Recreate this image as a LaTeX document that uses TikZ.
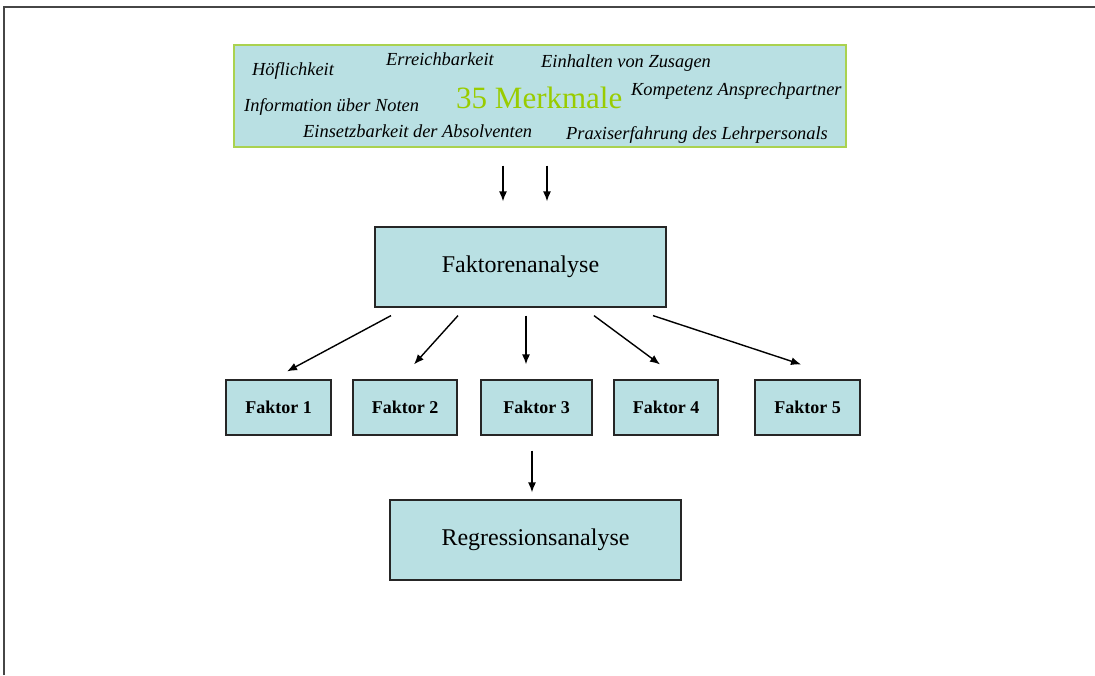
\documentclass[tikz,border=0pt]{standalone}
\usepackage{fontspec}
\setmainfont{Liberation Serif}
\usepackage{xcolor}
\usepackage{tikz}
\usetikzlibrary{calc}
\usetikzlibrary{arrows.meta}
\usetikzlibrary{positioning}
\definecolor{boxblue}{RGB}{185,224,227}
\definecolor{merkgreen}{RGB}{153,204,0}
\definecolor{merkframe}{RGB}{170,210,80}
\definecolor{framegray}{RGB}{70,70,70}

\begin{document}
\begin{tikzpicture}[x=1pt,y=-1pt]
			\tikzset{box/.style={shape=rectangle, draw=black!85, fill=boxblue, line width=1.2pt, inner sep=0pt, align=center}}
			\tikzset{flow/.style={-{Latex[length=10pt,width=8pt]}, line width=1.4pt}}
			\tikzset{word/.style={anchor=base west, inner sep=0pt, font=\fontsize{18.4}{20}\selectfont\itshape}}
			\tikzset{fak/.style={box, minimum height=55pt, font=\fontsize{18}{20}\selectfont\bfseries}}
			\useasboundingbox (0,0) rectangle (1095,675);
			\draw[framegray, line width=2pt] (4,675) -- (4,7) -- (1095,7);
			% Merkmale
			\node[box, draw=merkframe, minimum width=612pt, minimum height=102pt] (merk) at (540,96) {};
			\node[word] (hoefl) at (252,75) {Höflichkeit};
			\node[word] (erreich) at (386,65) {Erreichbarkeit};
			\node[word] (zusagen) at (541,67) {Einhalten von Zusagen};
			\node[word] (noten) at (244,111) {Information über Noten};
			\node[word, font=\fontsize{31}{33}\selectfont, text=merkgreen] (anzahl) at (456,108) {35 Merkmale};
			\node[word] (kompetenz) at (631,95) {Kompetenz Ansprechpartner};
			\node[word] (einsatz) at (303,137) {Einsetzbarkeit der Absolventen};
			\node[word] (praxis) at (566,139) {Praxiserfahrung des Lehrpersonals};
			% Analyse
			\node[box, minimum width=291pt, minimum height=80pt, font=\fontsize{24}{26}\selectfont] (fa) at (520.5,267) {Faktorenanalyse};
			\node[fak, minimum width=105pt] (f1) at (278.5,407.5) {Faktor 1};
			\node[fak, minimum width=104pt] (f2) at (405,407.5) {Faktor 2};
			\node[fak, minimum width=111pt] (f3) at (536.5,407.5) {Faktor 3};
			\node[fak, minimum width=104pt] (f4) at (666,407.5) {Faktor 4};
			\node[fak, minimum width=105pt] (f5) at (807.5,407.5) {Faktor 5};
			\node[box, minimum width=291pt, minimum height=80pt, font=\fontsize{24}{26}\selectfont] (reg) at (535.5,540) {Regressionsanalyse};
			\draw[flow] ([xshift=-37pt,yshift=-18pt]merk.south) -- ([xshift=-17.5pt,yshift=25pt]fa.north);
			\draw[flow] ([xshift=7pt,yshift=-18pt]merk.south) -- ([xshift=26.5pt,yshift=25pt]fa.north);
			\draw[flow] ([xshift=-129.5pt,yshift=-8pt]fa.south) -- ([xshift=8.5pt,yshift=8pt]f1.north);
			\draw[flow] ([xshift=-62.5pt,yshift=-8pt]fa.south) -- ([xshift=9pt,yshift=15pt]f2.north);
			\draw[flow] ([xshift=5.5pt,yshift=-8pt]fa.south) -- ([xshift=-10.5pt,yshift=15pt]f3.north);
			\draw[flow] ([xshift=73.5pt,yshift=-8pt]fa.south) -- ([xshift=-6pt,yshift=15pt]f4.north);
			\draw[flow] ([xshift=132.5pt,yshift=-8pt]fa.south) -- ([xshift=-6.5pt,yshift=15pt]f5.north);
			\draw[flow] ([xshift=-4.5pt,yshift=-15pt]f3.south) -- ([xshift=-3.5pt,yshift=7pt]reg.north);
		\end{tikzpicture}
\end{document}
